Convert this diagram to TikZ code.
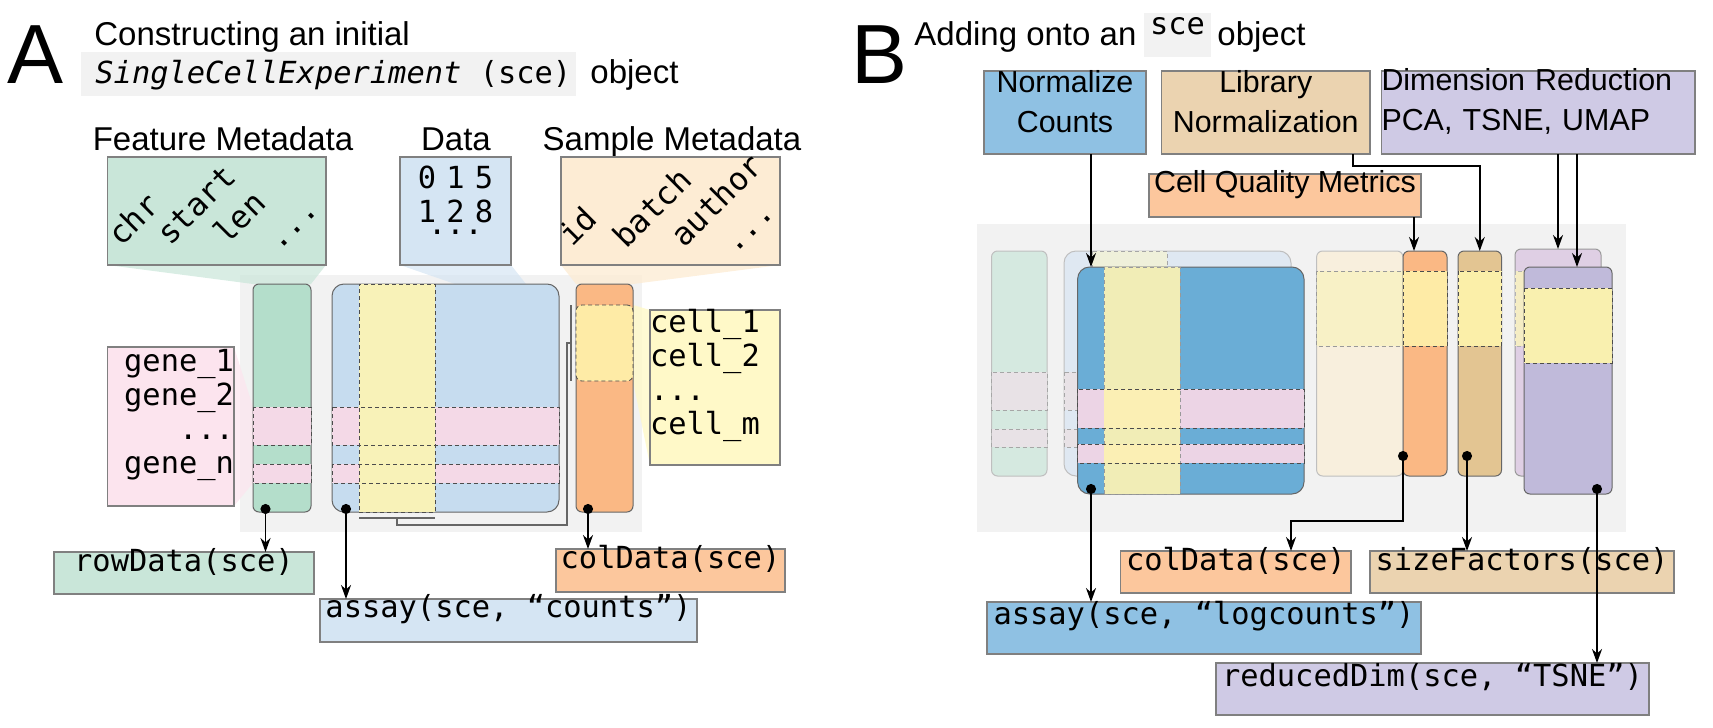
\documentclass[tikz,border=0pt]{standalone}
\usepackage{fontspec}
\setmainfont{Liberation Sans}
\setsansfont{Liberation Sans}
\setmonofont{DejaVu Sans Mono}
\usetikzlibrary{positioning, arrows.meta, fit}
\definecolor{bgGray}{HTML}{F2F2F2}
\definecolor{grnLt}{HTML}{C9E6D9}
\definecolor{grnCol}{HTML}{B4DECB}
\definecolor{bluLt}{HTML}{D5E5F3}
\definecolor{bluMat}{HTML}{C6DCEF}
\definecolor{pchLt}{HTML}{FDECD4}
\definecolor{orgCol}{HTML}{FAB884}
\definecolor{orgLbl}{HTML}{FCC79D}
\definecolor{pnkLt}{HTML}{FCE4EE}
\definecolor{pnkRow}{HTML}{F4D9E7}
\definecolor{ylwLt}{HTML}{FFF9C8}
\definecolor{ylwCol}{HTML}{F8F2B8}
\definecolor{ylwOrg}{HTML}{FEEBA6}
\definecolor{nrmBlue}{HTML}{8FC1E3}
\definecolor{libTan}{HTML}{EBD3B0}
\definecolor{dimPur}{HTML}{CFCAE5}
\definecolor{matBlue}{HTML}{6AADD6}
\definecolor{tanCol}{HTML}{E3C592}
\definecolor{tanYlw}{HTML}{FBEFA9}
\definecolor{purCol}{HTML}{C0BADA}
\definecolor{purYlw}{HTML}{F9F0AF}
\definecolor{purBack}{HTML}{DFCFE4}
\definecolor{backYlw}{HTML}{F5EDC4}
\definecolor{creamCol}{HTML}{F8EFDD}
\definecolor{creamYlw}{HTML}{F8F1C6}
\definecolor{ylwB}{HTML}{F1EDB6}
\definecolor{ylwPnkB}{HTML}{FBEFB4}
\definecolor{pnkB}{HTML}{ECD4E5}
\definecolor{fadeGrn}{HTML}{D5E9E0}
\definecolor{fadeBlu}{HTML}{DFE8F2}
\definecolor{fadePnk}{HTML}{E8E2E6}
\definecolor{fadeYlw}{HTML}{EFF0DA}

\begin{document}
\begin{tikzpicture}[x=0.5pt, y=-0.5pt,
  hdr/.style={font=\fontsize{16.5}{19}\selectfont, inner sep=0pt},
  big/.style={font=\fontsize{42}{42}\selectfont, inner sep=0pt, anchor=base west},
  mono/.style={font=\ttfamily\fontsize{15.2}{17}\selectfont},
  box/.style={draw=black!50, line width=0.6pt, inner sep=0pt, outer sep=0pt},
  tool/.style={box, align=center, font=\fontsize{15.2}{20}\selectfont},
  col/.style={draw=black!60, line width=0.5pt, rounded corners=3pt, inner sep=0pt, outer sep=0pt},
  band/.style={draw=black!70, dash pattern=on 2pt off 1.5pt, line width=0.4pt, inner sep=0pt, outer sep=0pt},
  tilt/.style={font=\ttfamily\fontsize{15.8}{17}\selectfont, rotate=45, anchor=base west, inner sep=0pt},
  brk/.style={draw=black!60, line width=0.8pt},
  link/.style={line width=0.9pt, {Circle[length=5pt]}-{Stealth[length=7pt,width=5pt]}},
  feed/.style={line width=0.9pt, -{Stealth[length=7pt,width=5pt]}},
]
\useasboundingbox (0,0) rectangle (1713,728);

% ---------------- A
\node[big] (letA) at (7,83) {A};
\node[hdr, anchor=base west] (titA) at (94,45) {Constructing an initial};
\node[inner sep=0pt, fill=bgGray, fit={(81,52) (576,96)}] (sceA) {};
\node[mono, anchor=base west, inner sep=0pt] (sceTxt) at (95,83) {\textit{SingleCellExperiment} (sce)};
\node[hdr, anchor=base west] (objA) at (590,83) {object};

\node[hdr, anchor=base] (featH) at (223,150) {Feature Metadata};
\node[hdr, anchor=base] (dataH) at (456,150) {Data};
\node[hdr, anchor=base] (sampH) at (672,150) {Sample Metadata};

\fill[bgGray] (240,275) rectangle (642,532);
\fill[grnLt, opacity=.7] (107.5,265) -- (326,265) -- (311,284) -- (253,284) -- cycle;
\fill[bluLt, opacity=.7] (400,265) -- (511,265) -- (526,284) -- (455,284) -- cycle;
\fill[pchLt, opacity=.8] (561,265) -- (780,265) -- (633,284) -- (576,284) -- cycle;
\fill[pnkLt, opacity=.7] (234,347) -- (253,407) -- (253,483) -- (234,506) -- cycle;
\fill[ylwLt, opacity=.8] (633,305) -- (650,310) -- (650,465) -- (633,381) -- cycle;

\node[box, fill=grnLt, fit={(107.5,157) (326,265)}] (featBox) {};
\node[box, fill=bluLt, fit={(400,157) (511,265)}, mono, align=center] (dataBox) {0 1 5\\1 2 8\\[-11pt]...};
\node[box, fill=pchLt, fit={(561,157) (780,265)}] (sampBox) {};
\node[tilt] (chrT) at (121,248) {chr};
\node[tilt] (startT) at (170,247) {start};
\node[tilt] (lenT) at (227,246) {len};
\node[tilt] (fdotT) at (279,252) {...};
\node[tilt] (idT) at (572,248) {id};
\node[tilt] (batchT) at (626,250) {batch};
\node[tilt] (authT) at (684,249) {author};
\node[tilt] (sdotT) at (735,255) {...};

\node[col, fill=grnCol, fit={(253,284) (311,512)}] (gColA) {};
\node[col, fill=bluMat, rounded corners=6pt, fit={(332,284) (559,512)}] (matA) {};
\node[col, fill=orgCol, fit={(576,284) (633,512)}] (oColA) {};
\foreach \ya/\yb in {407/445, 464/483} {
  \fill[pnkRow] (253,\ya) rectangle (311,\yb);
  \fill[pnkRow] (332,\ya) rectangle (559,\yb);
}
\node[band, fill=ylwCol, fit={(359,284) (435,512)}] (yColA) {};
\foreach \ya/\yb in {407/445, 464/483} {
  \draw[band] (253,\ya) rectangle (311,\yb);
  \draw[band] (332,\ya) rectangle (559,\yb);
}
\node[band, fill=ylwOrg, rounded corners=3pt, fit={(576,305) (633,381)}] (ySecA) {};
\draw[brk] ([yshift=-3pt]yColA.south west) -- ([yshift=-3pt]yColA.south east);
\draw[brk] ([yshift=-3pt]yColA.south) |- ([xshift=4pt,yshift=-6.5pt]matA.south east) |- ([xshift=-2.5pt]ySecA.west);
\draw[brk] ([xshift=-2.5pt]ySecA.north west) -- ([xshift=-2.5pt]ySecA.south west);

\node[box, fill=pnkLt, fit={(107.5,347) (234,506)}, mono, align=right] (geneBox) {gene\_1\\gene\_2\\...\\gene\_n};
\node[box, fill=ylwLt, fit={(650,310) (780,465)}, mono, align=left] (cellBox) {cell\_1\\cell\_2\\...\\cell\_m};

\node[box, fill=grnLt, fit={(54,552) (314,594)}, mono] (rowLbl) {rowData(sce)};
\node[box, fill=bluLt, fit={(320,599) (697,642)}, mono] (assayLbl) {assay(sce, “counts”)};
\node[box, fill=orgLbl, fit={(556,549) (785,592)}, mono] (colLbl) {colData(sce)};

\coordinate (rDot) at (265.5,504);
\coordinate (aDot) at (346,504);
\coordinate (cDot) at (588,504);
\draw[link] (rDot) -- (rDot |- rowLbl.north);
\draw[link] (aDot) -- (aDot |- assayLbl.north);
\draw[link] (cDot) -- (cDot |- colLbl.north);

% ---------------- B
\node[big] (letB) at (851,83) {B};
\node[hdr, anchor=base west] (titB) at (914,45) {Adding onto an};
\node[inner sep=0pt, fill=bgGray, fit={(1144,13) (1211,57)}, mono] (sceB) {sce};
\node[hdr, anchor=base west] (objB) at (1217,45) {object};

\node[tool, fill=nrmBlue, fit={(984,71) (1146,154)}] (normBox) {Normalize\\Counts};
\node[tool, fill=libTan, fit={(1161.5,71) (1370,154)}] (libBox) {Library\\Normalization};
\node[tool, fill=dimPur, fit={(1381.5,71) (1695,154)}, align=left] (dimBox) {Dimension Reduction\\PCA, TSNE, UMAP};
\node[tool, fill=orgLbl, fit={(1149,174) (1421,217)}] (cqBox) {Cell Quality Metrics};

\fill[bgGray] (977,224) rectangle (1626,532);
% faded copy of the object
\node[col, draw=black!25, fill=fadeGrn, fit={(991.5,251) (1047,476)}] (gColB) {};
\node[col, draw=black!25, fill=fadeBlu, rounded corners=6pt, fit={(1064,251) (1291,476)}] (matBack) {};
\foreach \ya/\yb in {372/410, 429/447} {
  \draw[band, draw=black!35, fill=fadePnk] (991.5,\ya) rectangle (1047,\yb);
  \draw[band, draw=black!35, fill=fadePnk] (1064,\ya) rectangle (1291,\yb);
}
\draw[band, draw=black!35, fill=fadeYlw] (1092,251) rectangle (1167,476);

\node[col, fill=matBlue, rounded corners=6pt, fit={(1077.6,267) (1304,494)}] (matB) {};
\foreach \ya/\yb in {389/428, 444/463}
  \fill[pnkB] (1077.6,\ya) rectangle (1304,\yb);
\node[band, draw=black!40, fill=ylwB, fit={(1104,267) (1180,494)}] (yColB) {};
\foreach \ya/\yb in {389/428, 444/463} {
  \fill[ylwPnkB] (1104,\ya) rectangle (1180,\yb);
  \draw[band] (1077.6,\ya) rectangle (1304,\yb);
}

\node[col, draw=black!25, fill=creamCol, fit={(1316.6,251) (1403,476)}] (crCol) {};
\draw[band, draw=black!40, fill=creamYlw] (1316.6,271) rectangle (1403,346);
\node[col, fill=orgCol, fit={(1403,251) (1447,476)}] (oColB) {};
\draw[band, fill=ylwOrg] (1403,271) rectangle (1447,346);
\node[col, fill=tanCol, fit={(1458,251) (1501.5,476)}] (tColB) {};
\draw[band, fill=tanYlw] (1458,271) rectangle (1501.5,346);
\node[col, draw=black!40, fill=purBack, fit={(1515,249) (1601,476)}] (pBack) {};
\draw[band, draw=black!30, fill=backYlw] (1515,271) rectangle (1601,346);
\node[col, fill=purCol, fit={(1524,267) (1612,494)}] (pFront) {};
\draw[band, fill=purYlw] (1524,288) rectangle (1612,363);

\node[box, fill=orgLbl, fit={(1120.6,551) (1351,593)}, mono] (colB) {colData(sce)};
\node[box, fill=libTan, fit={(1370,551) (1674,593)}, mono] (sizeB) {sizeFactors(sce)};
\node[box, fill=nrmBlue, fit={(987,602) (1421,654)}, mono] (assayB) {assay(sce, “logcounts”)};
\node[box, fill=dimPur, fit={(1216,663) (1649,715)}, mono] (redB) {reducedDim(sce, “TSNE”)};

\coordinate (bDot) at (1091,484);
\coordinate (oDot) at (1403,451);
\coordinate (tDot) at (1467,451);
\coordinate (pDot) at (1597,484);
\coordinate (oBend) at (1291,521);

\draw[feed] (normBox.south -| bDot) -- (bDot |- matB.north);
\draw[feed] ([xshift=-8.5pt]libBox.south east) -- ++(0,12) -| (tColB.north);
\draw[feed] ([xshift=-3.5pt]cqBox.south east) -- ([xshift=-3.5pt]cqBox.south east |- oColB.north);
\draw[feed] (dimBox.south -| pBack.north) -- (pBack.north);
\draw[feed] ([xshift=4.5pt]pFront.north |- dimBox.south) -- ([xshift=4.5pt]pFront.north);

\draw[link] (bDot) -- (bDot |- assayB.north);
\draw[link] (oDot) |- (oBend) -- (oBend |- colB.north);
\draw[link] (tDot) -- (tDot |- sizeB.north);
\draw[link] (pDot) -- (pDot |- redB.north);
\end{tikzpicture}
\end{document}
